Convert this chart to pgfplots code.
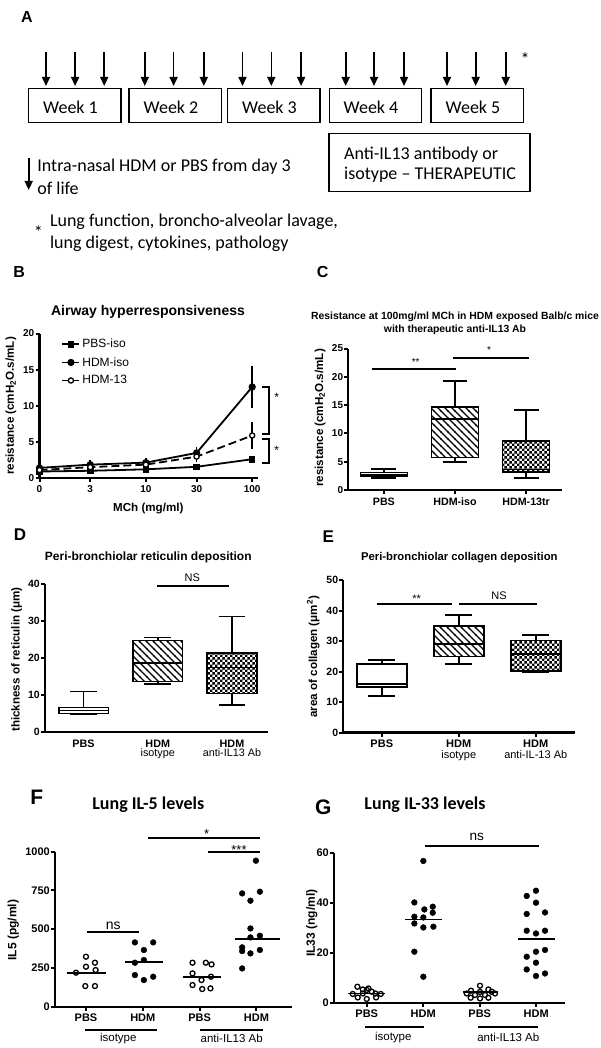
\documentclass[border=0pt]{standalone}
\usepackage{fontspec}
\setmainfont{Liberation Sans}
\newfontfamily\carlito{Carlito}
\usepackage{pgfplots}
\pgfplotsset{compat=1.18}
\usepgfplotslibrary{statistics}
\usetikzlibrary{patterns,arrows.meta}

\pgfdeclarepatternformonly{nwl}{\pgfqpoint{-1pt}{-1pt}}{\pgfqpoint{8pt}{8pt}}{\pgfqpoint{7pt}{7pt}}{%
 \pgfsetlinewidth{1.3pt}\pgfpathmoveto{\pgfqpoint{-0.5pt}{7.5pt}}\pgfpathlineto{\pgfqpoint{7.5pt}{-0.5pt}}\pgfusepath{stroke}}
\pgfdeclarepatternformonly{chk}{\pgfqpoint{0pt}{0pt}}{\pgfqpoint{5.4pt}{5.4pt}}{\pgfqpoint{5.4pt}{5.4pt}}{%
 \pgfpathrectangle{\pgfqpoint{0pt}{0pt}}{\pgfqpoint{2.7pt}{2.7pt}}\pgfpathrectangle{\pgfqpoint{2.7pt}{2.7pt}}{\pgfqpoint{2.7pt}{2.7pt}}\pgfusepath{fill}}

\newcommand\fs[1]{\fontsize{#1}{#1}\selectfont}

\pgfplotsset{gp/.style={scale only axis, anchor=south west, axis x line*=bottom, axis y line*=left,
  axis line style={line width=2.2pt}, tick style={line width=2pt,black}, tick align=outside,
  major tick length=4pt, clip=false, ticklabel style={font=\bfseries\fs{10}},
  yticklabel style={inner xsep=1pt}},
  bx/.style={draw=black, line width=1.6pt, solid},
  opn/.style={only marks, mark=o, mark size=2.5pt, mark options={line width=1.3pt, black}},
  fil/.style={only marks, mark=*, mark size=2.9pt, mark options={black, fill=black}},
  med/.style={line width=1.8pt, black, no marks}}

\begin{document}
\begin{tikzpicture}

% ---------------- B
\begin{axis}[gp, at={(39.5pt,-478pt)}, width=218pt, height=144.5pt,
 xmin=0, xmax=2.05, ymin=0, ymax=20,
 xtick={0,0.4771,1,1.4771,2}, xticklabels={0,3,10,30,100},
 ytick={0,5,10,15,20}, yticklabels={0,5,10,15,20},
 legend style={draw=none, fill=none, at={(axis description cs:0.10,0.99)}, anchor=north west,
   font=\fs{12}, inner sep=0pt, row sep=0pt, nodes={inner ysep=4pt}},
 legend cell align=left]
\addplot[line width=1.8pt, mark=square*, mark size=2.4pt] coordinates {(0,0.9)(0.4771,1.0)(1,1.2)(1.4771,1.55)(2,2.6)};
\addplot[line width=1.8pt, mark=*, mark size=2.7pt,
  error bars/.cd, y dir=both, y explicit, error bar style={line width=1.5pt},
  error mark options={mark size=4pt, line width=1.5pt, black}]
  coordinates {(0,1.4)+-(0,0.15)(0.4771,1.85)+-(0,0.15)(1,2.13)+-(0,0.15)(1.4771,3.47)+-(0,0.3)(2,12.6)+-(0,2.35)};
\addplot[line width=1.8pt, dash pattern=on 8pt off 4pt, mark=*, mark size=2.6pt, mark options={solid, fill=white, line width=1.3pt},
  error bars/.cd, y dir=both, y explicit, error bar style={line width=1.5pt, solid},
  error mark options={mark size=4pt, line width=1.5pt, black, solid}]
  coordinates {(0,1.1)+-(0,0.1)(0.4771,1.5)+-(0,0.1)(1,1.85)+-(0,0.15)(1.4771,2.96)+-(0,0.2)(2,5.88)+-(0,1.3)};
\legend{PBS-iso,HDM-iso,HDM-13}
\end{axis}

% ---------------- C
\begin{axis}[gp, at={(348.3pt,-490pt)}, width=213.4pt, height=141.5pt,
 xmin=0.5, xmax=3.5, ymin=0, ymax=25,
 xtick={1,2,3}, xticklabels={PBS,HDM-iso,HDM-13tr},
 ytick={0,5,10,15,20,25}, yticklabels={0,5,10,15,20,25},
 x tick label style={font=\bfseries\fs{10.7}},
 boxplot/draw direction=y, boxplot/box extend=0.66, boxplot/whisker extend=0.35]
\addplot[bx, fill=white, boxplot prepared={lower whisker=2.07, lower quartile=2.36, median=2.7, upper quartile=3.06, upper whisker=3.7, draw position=1}] coordinates {};
\addplot[bx, pattern=nwl, boxplot prepared={lower whisker=5.0, lower quartile=5.77, median=12.5, upper quartile=14.66, upper whisker=19.26, draw position=2}] coordinates {};
\addplot[bx, pattern=chk, boxplot prepared={lower whisker=2.07, lower quartile=3.23, median=3.6, upper quartile=8.7, upper whisker=14.1, draw position=3}] coordinates {};
\end{axis}

% ---------------- D
\begin{axis}[gp, at={(45pt,-732.3pt)}, width=223.3pt, height=148pt,
 xmin=0.48, xmax=3.49, ymin=0, ymax=40,
 xtick={1,2,3}, xticklabels={{\bfseries PBS},{\bfseries HDM\\\mdseries isotype},{\bfseries HDM\\\mdseries anti-IL13 Ab}},
 x tick label style={font=\fontsize{10.8}{9.6}\selectfont, align=center},
 xtick style={draw=none},
 ytick={0,10,20,30,40}, yticklabels={0,10,20,30,40},
 y tick label style={font=\bfseries\fs{10.5}},
 boxplot/draw direction=y, boxplot/box extend=0.67, boxplot/whisker extend=0.36]
\addplot[bx, fill=white, boxplot prepared={lower whisker=4.8, lower quartile=5.1, median=5.9, upper quartile=6.67, upper whisker=11.0, draw position=1}] coordinates {};
\addplot[bx, pattern=nwl, boxplot prepared={lower whisker=13.1, lower quartile=13.7, median=18.8, upper quartile=24.8, upper whisker=25.6, draw position=2}] coordinates {};
\addplot[bx, pattern=chk, boxplot prepared={lower whisker=7.4, lower quartile=10.5, median=17.5, upper quartile=21.4, upper whisker=31.3, draw position=3}] coordinates {};
\end{axis}

% ---------------- E
\begin{axis}[gp, at={(343.3pt,-732.5pt)}, width=231.7pt, height=152.5pt,
 xmin=0.5, xmax=3.51, ymin=0, ymax=50,
 xtick={1,2,3}, xticklabels={{\bfseries PBS},{\bfseries HDM\\\mdseries isotype},{\bfseries HDM\\\mdseries anti-IL-13 Ab}},
 x tick label style={font=\fontsize{11}{11}\selectfont, align=center},
 ytick={0,10,20,30,40,50}, yticklabels={0,10,20,30,40,50},
 y tick label style={font=\bfseries\fs{10.5}},
 boxplot/draw direction=y, boxplot/box extend=0.65, boxplot/whisker extend=0.35]
\addplot[bx, fill=white, boxplot prepared={lower whisker=11.9, lower quartile=14.9, median=15.85, upper quartile=22.5, upper whisker=23.8, draw position=1}] coordinates {};
\addplot[bx, pattern=nwl, boxplot prepared={lower whisker=22.5, lower quartile=24.9, median=29.0, upper quartile=35.0, upper whisker=38.5, draw position=2}] coordinates {};
\addplot[bx, pattern=chk, boxplot prepared={lower whisker=19.8, lower quartile=20.2, median=25.7, upper quartile=30.2, upper whisker=32.0, draw position=3}] coordinates {};
\end{axis}

% ---------------- F
\begin{axis}[gp, at={(55pt,-1006.7pt)}, width=236.7pt, height=155pt,
 xmin=0.455, xmax=4.62, ymin=0, ymax=1000,
 xtick={1,2,3,4}, xticklabels={PBS,HDM,PBS,HDM},
 ytick={0,250,500,750,1000}, yticklabels={0,250,500,750,1000},
 ticklabel style={font=\bfseries\fs{11}}]
\addplot[opn] coordinates {(1.0,322.6)(1.0,258)(1.158,283.9)(0.824,219.4)(1.17,236.6)(0.988,133.3)(1.158,133.3)};
\addplot[fil] coordinates {(1.861,415)(2.183,415)(2.019,365.6)(2.019,301)(1.861,283.9)(1.861,204)(2.183,193.5)(2.019,172)};
\addplot[opn] coordinates {(2.875,283.9)(3.109,283.9)(3.21,273)(2.875,215)(3.20,193.5)(3.033,172)(2.875,139.8)(3.045,114)(3.19,118.3)};
\addplot[fil] coordinates {(3.99,942)(3.748,731)(4.06,742)(3.894,684)(3.894,505)(4.06,458)(3.894,447)(3.748,383)(3.748,359)(3.894,344)(4.06,366)(3.748,247)};
\addplot[med] coordinates {(0.66,219)(1.36,219)};
\addplot[med] coordinates {(1.685,288)(2.36,288)};
\addplot[med] coordinates {(2.70,194)(3.38,194)};
\addplot[med] coordinates {(3.62,439)(4.41,439)};
\end{axis}

% ---------------- G
\begin{axis}[gp, at={(334pt,-1002.7pt)}, width=231pt, height=150pt,
 xmin=0.42, xmax=4.51, ymin=0, ymax=60,
 xtick={1,2,3,4}, xticklabels={PBS,HDM,PBS,HDM},
 ytick={0,20,40,60}, yticklabels={0,20,40,60},
 ticklabel style={font=\bfseries\fs{11}}]
\addplot[opn] coordinates {(0.834,6.4)(1.0,5.1)(0.929,3.7)(0.752,3.5)(1.088,4.4)(1.248,3.5)(1.165,2.1)(1.0,1.5)(0.84,2.1)(1.03,5.7)(0.929,5.3)(1.153,3.7)};
\addplot[fil] coordinates {(2.002,56.7)(1.843,40.1)(2.02,37.3)(2.168,38.4)(2.168,36.0)(1.843,34.4)(2.002,34.1)(1.843,31.7)(2.18,30.4)(2.002,30.1)(1.843,20.4)(2.002,10.4)};
\addplot[opn] coordinates {(3.005,6.8)(2.846,4.8)(3.153,5.3)(3.005,4.3)(3.212,4.4)(2.77,3.7)(2.917,3.1)(3.094,3.1)(2.84,2.0)(3.005,1.7)(3.153,2.0)(3.27,3.7)};
\addplot[fil] coordinates {(3.996,44.8)(3.832,42.7)(3.996,40)(3.832,35.5)(4.156,36.1)(3.832,28.8)(3.996,27.7)(4.156,28.8)(3.832,18.4)(3.996,20.4)(4.156,21.1)(3.996,16.0)(3.832,13.3)(4.156,11.7)(3.996,10.7)};
\addplot[med] coordinates {(0.675,3.7)(1.324,3.7)};
\addplot[med] coordinates {(1.678,33.3)(2.338,33.3)};
\addplot[med] coordinates {(2.71,4.3)(3.33,4.3)};
\addplot[med] coordinates {(3.68,25.6)(4.33,25.6)};
\end{axis}

% ---------------- annotations
\begin{scope}[x=1pt,y=-1pt]
% Panel A
\node[font=\bfseries\fs{16}] at (26.8,16.7) {A};
\foreach \a/\b in {28.7/121,129/221.5,227.6/320,329.3/421.7,431/523.3}
  \draw[line width=1.3pt] (\a,88.3) rectangle (\b,122.7);
\foreach \x/\t in {70.5/Week 1,171/Week 2,269.5/Week 3,371/Week 4,473/Week 5}
  \node[font=\carlito\fs{18}, anchor=base] at (\x,113.3) {\t};
\foreach \x in {46,75.1,104.2,144.8,173.6,203.8,242.5,271.3,301.1,345.7,374,404,447,475.7,505.7}
  \draw[line width=1.6pt,-{Triangle[width=8pt,length=9pt]}] (\x,52.3) -- (\x,86);
\node[font=\carlito\fs{18}] at (525,59) {*};
\draw[line width=1.3pt] (329,133.3) rectangle (530,191.7);
\node[font=\carlito\fs{18}, anchor=base west, inner sep=0pt] at (344,159.3) {Anti-IL13 antibody or};
\node[font=\carlito\fs{18}, anchor=base west, inner sep=0pt] at (344,180) {isotype – THERAPEUTIC};
\draw[line width=1.6pt,-{Triangle[width=8pt,length=9pt]}] (28.7,158.3) -- (28.7,190);
\node[font=\carlito\fs{18}, anchor=base west, inner sep=0pt] at (37.2,171.7) {Intra-nasal HDM or PBS from day 3};
\node[font=\carlito\fs{18}, anchor=base west, inner sep=0pt] at (37.2,194.3) {of life};
\node[font=\carlito\fs{18}] at (38.3,232) {*};
\node[font=\carlito\fs{18}, anchor=base west, inner sep=0pt] at (49.8,226.7) {Lung function, broncho-alveolar lavage,};
\node[font=\carlito\fs{18}, anchor=base west, inner sep=0pt] at (49.8,248.3) {lung digest, cytokines, pathology};
% panel letters
\node[font=\bfseries\fs{16}] at (19.2,271.7) {B};
\node[font=\bfseries\fs{16}] at (322.7,271.7) {C};
\node[font=\bfseries\fs{17}] at (20,535) {D};
\node[font=\bfseries\fs{17}] at (328.3,536.7) {E};
\node[font=\bfseries\fs{21}] at (36.7,797.5) {F};
\node[font=\bfseries\fs{21}] at (323.3,807.5) {G};
% titles
\node[font=\bfseries\fs{14}] at (148,311.7) {Airway hyperresponsiveness};
\node[font=\bfseries\fs{10.4}] at (455,316.7) {Resistance at 100mg/ml MCh in HDM exposed Balb/c mice};
\node[font=\bfseries\fs{10.4}] at (455,330) {with therapeutic anti-IL13 Ab};
\node[font=\bfseries\fs{12}] at (148.3,557.7) {Peri-bronchiolar reticulin deposition};
\node[font=\bfseries\fs{11.3}] at (459.3,557.7) {Peri-bronchiolar collagen deposition};
\node[font=\carlito\bfseries\fs{18}] at (148.3,805) {Lung IL-5 levels};
\node[font=\carlito\bfseries\fs{18}] at (425,805) {Lung IL-33 levels};
% axis labels
\node[font=\bfseries\fs{11.6}, rotate=90] at (11,406) {resistance (cmH\textsubscript{2}O.s/mL)};
\node[font=\bfseries\fs{11.6}, rotate=90] at (320,418) {resistance (cmH\textsubscript{2}O.s/mL)};
\node[font=\bfseries\fs{11.6}, rotate=90] at (16.7,659.5) {thickness of reticulin (μm)};
\node[font=\bfseries\fs{11.6}, rotate=90] at (313.3,656.7) {area of collagen (μm\textsuperscript{2})};
\node[font=\bfseries\fs{12}, rotate=90] at (13.3,930) {IL5 (pg/ml)};
\node[font=\bfseries\fs{12}, rotate=90] at (311.7,923.3) {IL33 (ng/ml)};
\node[font=\bfseries\fs{11.6}] at (148.3,508.3) {MCh (mg/ml)};
% B brackets
\draw[line width=1.8pt] (261.7,386.7) -- (269.3,386.7) -- (269.3,434) -- (261.7,434);
\draw[line width=1.8pt] (261.7,439.3) -- (269.3,439.3) -- (269.3,463.3) -- (261.7,463.3);
\node[font=\fs{12}] at (276.7,397) {*};
\node[font=\fs{12}] at (276.7,450.3) {*};
% C sig
\draw[line width=2pt] (371.7,369.3) -- (455.7,369.3);
\draw[line width=2pt] (452.7,358.3) -- (529.3,358.3);
\node[font=\fs{10}] at (415.7,362) {**};
\node[font=\fs{10}] at (489,350.3) {*};
% D sig
\draw[line width=2pt] (157.3,585.7) -- (229.3,585.7);
\node[font=\fs{11}] at (192.3,577.7) {NS};
% E sig
\draw[line width=2pt] (376.7,603.7) -- (451.7,603.7);
\draw[line width=2pt] (459.3,603.7) -- (536.7,603.7);
\node[font=\fs{11}] at (416.7,598.7) {**};
\node[font=\fs{11}] at (499,596) {NS};
% F sig and groups
\draw[line width=2pt] (148.3,838.3) -- (260,838.3);
\draw[line width=2pt] (208.3,852.3) -- (260,852.3);
\draw[line width=2pt] (87.3,932.3) -- (139.3,932.3);
\node[font=\fs{13}] at (206.7,834) {*};
\node[font=\fs{13}] at (239,850.5) {***};
\node[font=\fs{14}] at (113.3,925.7) {ns};
\draw[line width=2pt] (85,1030) -- (156.7,1030);
\draw[line width=2pt] (200,1030) -- (263.3,1030);
\node[font=\fs{11.5}] at (118.3,1038.3) {isotype};
\node[font=\fs{11.5}] at (231.7,1038.3) {anti-IL13 Ab};
% G sig and groups
\draw[line width=2pt] (425,845.7) -- (539.3,845.7);
\node[font=\fs{13.6}] at (476.7,837.3) {ns};
\draw[line width=2pt] (365,1026.7) -- (424,1026.7);
\draw[line width=2pt] (478.3,1026.7) -- (538.3,1026.7);
\node[font=\fs{11.5}] at (393.3,1037.3) {isotype};
\node[font=\fs{11.5}] at (508.3,1037.3) {anti-IL13 Ab};
\end{scope}
\pgfresetboundingbox
\useasboundingbox (0pt,0pt) rectangle (601pt,-1048pt);
\end{tikzpicture}
\end{document}
